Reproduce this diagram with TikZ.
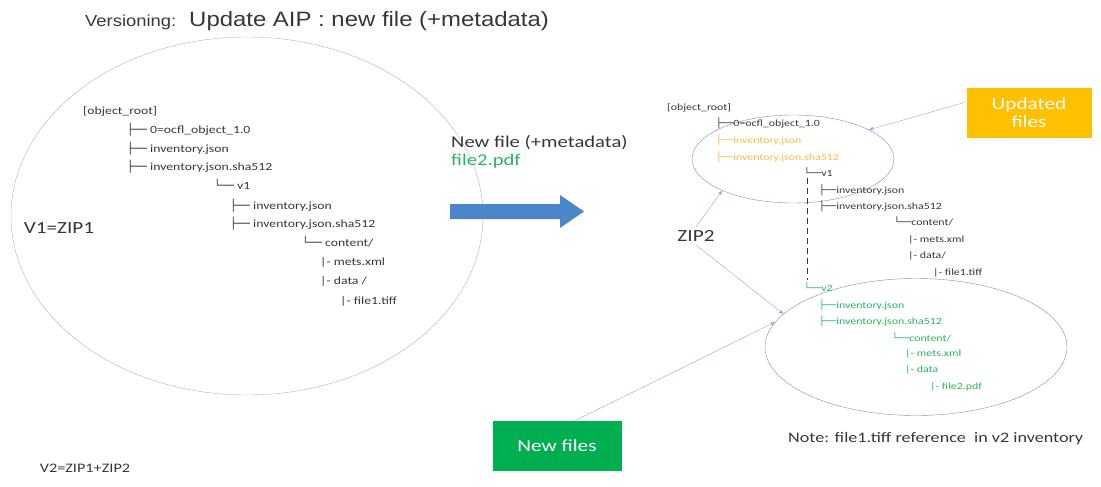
\documentclass[tikz,border=0pt]{standalone}
\usepackage{fontspec}
\setmainfont{Carlito}[FakeStretch=1.25]
\newfontfamily\arialfont{Liberation Sans}[FakeStretch=1.15]
\newfontfamily\boxfont{DejaVu Sans}
\usetikzlibrary{shapes.geometric,arrows.meta}

\definecolor{updorange}{RGB}{255,192,0}
\definecolor{paleorange}{RGB}{245,188,70}
\definecolor{newgreen}{RGB}{0,176,80}
\definecolor{treegreen}{RGB}{40,180,100}
\definecolor{linkblue}{RGB}{143,170,215}
\definecolor{arrowblue}{RGB}{74,134,200}
\definecolor{textgray}{RGB}{55,55,55}
\definecolor{ringgray}{RGB}{165,182,208}
\definecolor{ringblue}{RGB}{120,145,190}
\definecolor{ringdark}{RGB}{140,140,150}

\newcommand{\treetee}{{\boxfont ├──}}
\newcommand{\treeend}{{\boxfont └──}}

\begin{document}
\begin{tikzpicture}[x=1pt, y=-1pt,
    lrow/.style={anchor=mid west, inner sep=0pt, text=textgray, font=\fontsize{11}{13}\selectfont},
    rrow/.style={anchor=mid west, inner sep=0pt, text=textgray, font=\fontsize{9.5}{11}\selectfont},
    ring/.style={ellipse, draw, inner sep=0pt},
    tag/.style={fill=#1, text=white, align=center, inner sep=0pt, font=\fontsize{17}{20}\selectfont},
    link/.style={linkblue, thin, -{Stealth[length=5pt,width=4pt]}}]

    \useasboundingbox (0,0) rectangle (1101,487);

    % Title
    \node[anchor=base west, inner sep=0pt, text=textgray] (title) at (85,27)
        {\arialfont\fontsize{16}{18}\selectfont Versioning:\hspace{13pt}{\fontsize{20.8}{24}\selectfont Update AIP : new file (+metadata)}};

    % ---- V1: the first package ----
    \node[ring, draw=ringgray, minimum width=472, minimum height=358] (ring1) at (247,216) {};
    \node[text=textgray, font=\fontsize{17}{20}\selectfont] (v1lbl) at (59,228) {V1=ZIP1};

    \node[lrow] (l1) at (83,112) {[object\_root]};
    \node[lrow] (l2) at (127,131) {\treetee\ 0=ocfl\_object\_1.0};
    \node[lrow] (l3) at (127,150) {\treetee\ inventory.json};
    \node[lrow] (l4) at (127,168) {\treetee\ inventory.json.sha512};
    \node[lrow] (l5) at (214,187) {\treeend\ v1};
    \node[lrow] (l6) at (230,207) {\treetee\ inventory.json};
    \node[lrow] (l7) at (230,225) {\treetee\ inventory.json.sha512};
    \node[lrow] (l8) at (302,244) {\treeend\ content/};
    \node[lrow] (l9) at (320,263) {|- mets.xml};
    \node[lrow] (l10) at (320,282) {|- data /};
    \node[lrow] (l11) at (340,302) {|- file1.tiff};

    \node[text=textgray, font=\fontsize{13}{16}\selectfont] (v2lbl) at (85,468) {V2=ZIP1+ZIP2};

    % ---- the update ----
    \node[anchor=mid west, inner sep=0pt, text=textgray, font=\fontsize{16.5}{19}\selectfont] (newlbl) at (451,145) {New file (+metadata)};
    \node[anchor=mid west, inner sep=0pt, text=treegreen, font=\fontsize{16.5}{19}\selectfont] (file2) at (451,163) {file2.pdf};
    \fill[arrowblue] (450,204) -- (560,204) -- (560,195) -- (584,211.5) -- (560,228) -- (560,219) -- (450,219) -- cycle;

    % ---- V2: the updated object ----
    \node[ring, draw=ringblue, minimum width=202, minimum height=88] (ring2) at (793,159) {};
    \node[ring, draw=ringdark, minimum width=302, minimum height=137] (ring3) at (916,347) {};

    \node[rrow] (r1) at (667,108) {[object\_root]};
    \node[rrow] (r2) at (716,124) {\treetee0=ocfl\_object\_1.0};
    \node[rrow, text=paleorange] (r3) at (716,141) {\treetee inventory.json};
    \node[rrow, text=paleorange] (r4) at (716,158) {\treetee inventory.json.sha512};
    \node[rrow] (r5) at (804,174) {\treeend v1};
    \node[rrow] (r6) at (819,191) {\treetee inventory.json};
    \node[rrow] (r7) at (819,207) {\treetee inventory.json.sha512};
    \node[rrow] (r8) at (894,223) {\treeend content/};
    \node[rrow] (r9) at (908,240) {|- mets.xml};
    \node[rrow] (r10) at (908,256) {|- data/};
    \node[rrow] (r11) at (933,273) {|- file1.tiff};
    \node[rrow, text=treegreen] (r12) at (804,289) {\treeend v2};
    \node[rrow, text=treegreen] (r13) at (819,306) {\treetee inventory.json};
    \node[rrow, text=treegreen] (r14) at (819,322) {\treetee inventory.json.sha512};
    \node[rrow, text=treegreen] (r15) at (892,339) {\treeend content/};
    \node[rrow, text=treegreen] (r16) at (905,354) {|- mets.xml};
    \node[rrow, text=treegreen] (r17) at (905,370) {|- data};
    \node[rrow, text=treegreen] (r18) at (930,387) {|- file2.pdf};

    % v1 branch runs on down to v2
    \draw[textgray, dashed, dash pattern=on 6pt off 4pt] ([xshift=2.9pt, yshift=-6pt]r5.west) -- ([xshift=2.9pt, yshift=7pt]r12.west);

    % Callouts
    \node[tag=updorange, minimum width=125, minimum height=49] (upd) at (1029,113) {Updated\\[-2pt]files};
    \node[tag=newgreen, minimum width=129, minimum height=50] (newf) at (557,446) {New files};
    \node[text=textgray, font=\fontsize{17}{20}\selectfont] (zip2) at (696,236) {ZIP2};

    \draw[link] (upd.170) -- (ring2.21);
    \draw[link] (zip2.north) -- (ring2.204);
    \draw[link] (zip2.south) -- (ring3.166);
    \draw[link] (newf.55) -- (ring3.170);

    \node[anchor=mid west, inner sep=0pt, text=textgray, font=\fontsize{14.5}{17}\selectfont] (note) at (788,440) {Note: file1.tiff reference\ \ in v2 inventory};

\end{tikzpicture}
\end{document}
